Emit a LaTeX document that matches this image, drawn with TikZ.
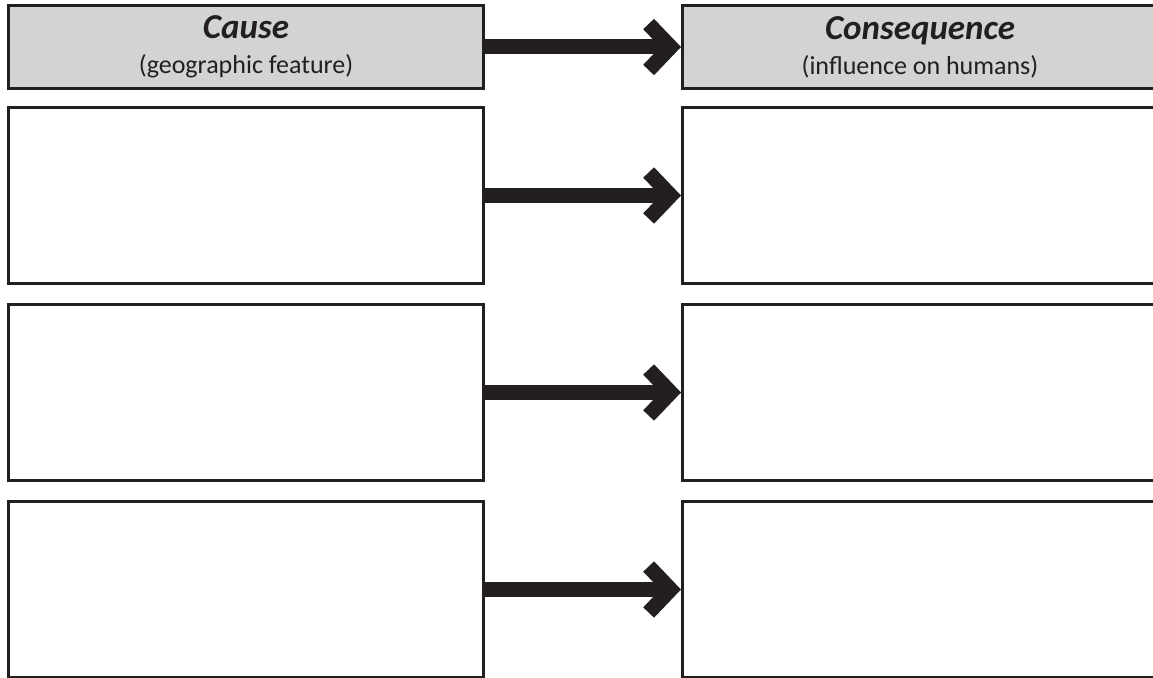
\documentclass[tikz,border=0pt]{standalone}
\usepackage{fontspec}
\setmainfont{Carlito}
\usetikzlibrary{arrows.meta}
\definecolor{ink}{HTML}{231F20}
\definecolor{headgray}{HTML}{D1D3D4}

\begin{document}
\begin{tikzpicture}[x=1pt,y=-1pt,
		box/.style={draw=ink, line width=3pt, minimum width=475pt, inner sep=0pt, anchor=north west},
		headbox/.style={box, fill=headgray, minimum height=83pt, align=center, text=ink,
			font=\fontsize{26}{28}\selectfont},
		rowbox/.style={box, minimum height=176pt},
		bigarrow/.style={draw=ink, line width=15pt, -{Straight Barb[length=22pt, width=46pt]}}]
	\useasboundingbox (0,0) rectangle (1153,677);

	\begin{scope}
		\node [headbox] (cause) at (7,4)
			{{\fontsize{35}{38}\selectfont\bfseries\itshape Cause}\\[7pt](geographic feature)};
		\node [headbox] (conseq) at (681,4)
			{{\fontsize{35}{38}\selectfont\bfseries\itshape Consequence}\\[7pt](influence on humans)};
		\draw [bigarrow] (cause) -- (conseq);
	\end{scope}

	\begin{scope}
		\foreach \i/\y in {1/106, 2/303, 3/500}
		{
			\node [rowbox] (cause\i) at (7,\y) {};
			\node [rowbox] (conseq\i) at (681,\y) {};
			\draw [bigarrow] (cause\i) -- (conseq\i);
		}
	\end{scope}
\end{tikzpicture}
\end{document}
